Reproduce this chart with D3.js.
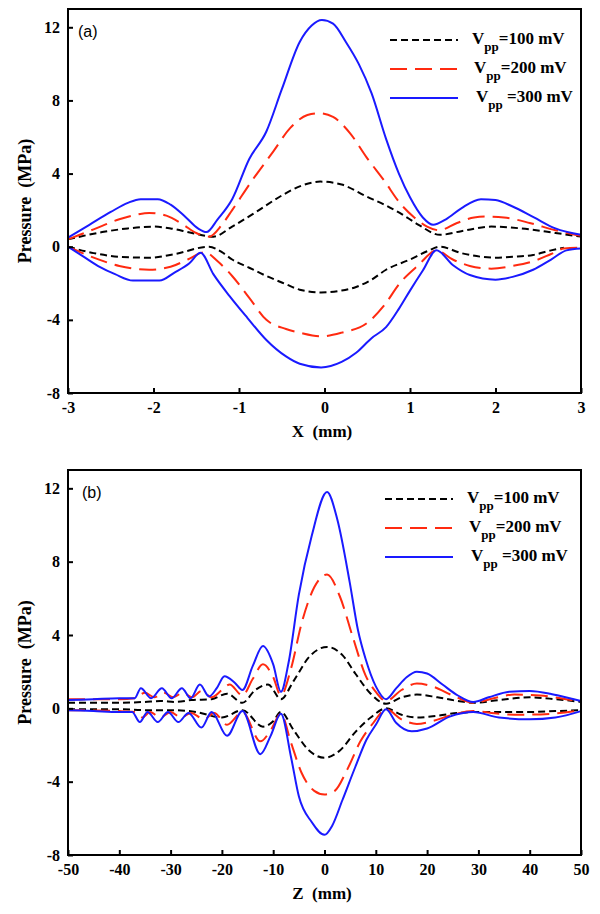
<!DOCTYPE html>
<meta charset="utf-8">
<html>
<head>
  <script src="https://d3js.org/d3.v7.min.js"></script>
  <style>
    body { margin: 0; background: #fff; }
    text { font-family: "Liberation Serif", "Times New Roman", serif; font-weight: bold; }
  </style>
</head>
<body>
<div id="chart"></div>
<script>
  // ---- data ----
  // panel (a): X (mm) vs pressure (MPa)
  var a100pos = [[-3,0.4],[-2.6,0.8],[-2.3,1.0],[-2.0,1.1],[-1.8,1.0],[-1.55,0.75],[-1.3,0.55],[-1.08,1.1],[-0.8,1.9],[-0.5,2.8],[-0.29,3.3],[-0.05,3.56],[0.2,3.4],[0.49,2.75],[0.7,2.3],[0.88,1.85],[1.1,1.2],[1.35,0.65],[1.6,0.85],[1.95,1.1],[2.3,1.0],[2.7,0.75],[3,0.55]];
  var a100neg = [[-3,0],[-2.7,-0.35],[-2.4,-0.55],[-2.05,-0.6],[-1.75,-0.4],[-1.35,0],[-1.2,-0.3],[-1.08,-0.7],[-0.88,-1.15],[-0.68,-1.6],[-0.45,-2.05],[-0.29,-2.35],[-0.04,-2.5],[0.2,-2.4],[0.37,-2.2],[0.55,-1.8],[0.72,-1.26],[1.0,-0.7],[1.2,-0.25],[1.35,0],[1.6,-0.35],[2.0,-0.6],[2.2,-0.55],[2.44,-0.45],[2.65,-0.2],[2.8,-0.05]];
  var a200pos = [[-3,0.4],[-2.7,0.95],[-2.4,1.5],[-2.2,1.75],[-2.05,1.85],[-1.85,1.7],[-1.65,1.2],[-1.5,0.75],[-1.35,0.55],[-1.2,1.2],[-1.08,2.0],[-0.85,3.6],[-0.6,5.2],[-0.4,6.5],[-0.2,7.2],[-0.06,7.3],[0.1,7.1],[0.3,6.2],[0.49,4.9],[0.7,3.6],[0.88,2.4],[1.05,1.6],[1.2,1.1],[1.34,0.9],[1.55,1.3],[1.75,1.6],[1.9,1.65],[2.1,1.6],[2.4,1.3],[2.7,0.9],[3,0.6]];
  var a200neg = [[-3,0],[-2.7,-0.6],[-2.4,-1.05],[-2.05,-1.26],[-1.8,-1.1],[-1.6,-0.7],[-1.4,-0.3],[-1.25,-0.8],[-1.08,-1.6],[-0.88,-2.8],[-0.68,-4.0],[-0.45,-4.5],[-0.29,-4.7],[-0.04,-4.9],[0.2,-4.7],[0.49,-4.2],[0.7,-3.2],[0.88,-2.0],[1.1,-1.0],[1.31,-0.2],[1.5,-0.7],[1.7,-1.05],[1.95,-1.2],[2.2,-1.05],[2.44,-0.8],[2.65,-0.4],[2.8,-0.1],[3,-0.05]];
  var a300pos = [[-3,0.5],[-2.75,1.2],[-2.5,1.9],[-2.3,2.4],[-2.15,2.6],[-1.95,2.6],[-1.8,2.3],[-1.62,1.6],[-1.48,1.0],[-1.38,0.8],[-1.25,1.5],[-1.08,2.6],[-0.88,4.8],[-0.68,6.3],[-0.5,8.6],[-0.29,11.2],[-0.15,12.1],[-0.03,12.4],[0.1,12.2],[0.25,11.2],[0.4,10.0],[0.55,8.4],[0.72,5.9],[0.87,4.0],[1.0,2.7],[1.15,1.6],[1.27,1.2],[1.42,1.5],[1.6,2.1],[1.83,2.6],[2.0,2.55],[2.2,2.2],[2.45,1.6],[2.7,1.0],[3,0.65]];
  var a300neg = [[-3,0],[-2.8,-0.6],[-2.63,-1.1],[-2.45,-1.5],[-2.24,-1.85],[-1.93,-1.85],[-1.75,-1.4],[-1.58,-0.9],[-1.45,-0.33],[-1.3,-1.5],[-1.11,-2.7],[-0.9,-3.9],[-0.68,-5.1],[-0.45,-6.0],[-0.29,-6.4],[-0.04,-6.6],[0.2,-6.3],[0.37,-5.8],[0.55,-5.0],[0.72,-4.4],[0.87,-3.4],[1.0,-2.4],[1.15,-1.3],[1.31,-0.2],[1.5,-1.0],[1.7,-1.55],[2.0,-1.8],[2.2,-1.65],[2.44,-1.26],[2.65,-0.7],[2.83,-0.2],[3,-0.1]];

  // panel (b): Z (mm) vs pressure (MPa)
  var b100pos = [[-50,0.3],[-40,0.3],[-35,0.35],[-32,0.4],[-29,0.35],[-26,0.45],[-22,0.5],[-19,0.8],[-16,0.3],[-13.5,1.0],[-11,1.3],[-8.5,0.5],[-6,1.5],[-3,2.8],[0.5,3.35],[3.5,2.9],[6,1.9],[9,0.8],[12,0.25],[15,0.6],[18,0.75],[22,0.6],[26,0.4],[29,0.3],[34,0.45],[40,0.6],[45,0.5],[50,0.35]];
  var b100neg = [[-50,-0.05],[-40,-0.05],[-35,-0.1],[-30,-0.1],[-25,-0.2],[-20,-0.5],[-16,-0.1],[-12,-1.0],[-10,-0.7],[-8.5,-0.2],[-6,-1.2],[-3,-2.3],[0,-2.7],[3,-2.3],[6,-1.3],[9,-0.5],[12,0],[15,-0.35],[18,-0.5],[22,-0.4],[26,-0.25],[29,-0.2],[34,-0.2],[40,-0.2],[45,-0.15],[50,-0.1]];
  var b200pos = [[-50,0.5],[-45,0.5],[-40,0.5],[-37,0.55],[-35,0.85],[-33.2,0.6],[-31.3,0.85],[-29.5,0.6],[-27.6,0.85],[-25.8,0.6],[-24,0.95],[-22,0.6],[-20,1.0],[-18.5,1.3],[-16,0.7],[-14,1.6],[-12,2.4],[-10,1.7],[-8.5,0.7],[-6.5,2.2],[-4.5,4.6],[-2,6.6],[0.5,7.3],[3,6.1],[5.5,3.9],[8,1.8],[10,0.9],[12,0.4],[15,1.0],[18,1.35],[21,1.2],[25,0.7],[29,0.3],[33,0.55],[37,0.75],[42,0.7],[46,0.55],[50,0.35]];
  var b200neg = [[-50,-0.1],[-40,-0.15],[-37,-0.2],[-35.5,-0.5],[-34,-0.2],[-32,-0.5],[-30,-0.2],[-28,-0.5],[-26,-0.25],[-23.5,-0.6],[-21.5,-0.25],[-19,-0.9],[-16,-0.2],[-12.5,-1.8],[-10.5,-1.2],[-8.5,-0.3],[-6.5,-1.9],[-4.5,-3.5],[-2,-4.5],[0,-4.7],[2,-4.5],[4.5,-3.3],[7,-1.8],[9.5,-0.8],[12,-0.05],[15,-0.6],[18,-0.85],[21,-0.7],[25,-0.35],[29,-0.15],[34,-0.3],[38,-0.35],[44,-0.3],[50,-0.1]];
  var b300pos = [[-50,0.45],[-45,0.5],[-40,0.55],[-37,0.55],[-35.8,1.1],[-33.8,0.55],[-31.7,1.1],[-29.8,0.55],[-27.8,1.1],[-26.1,0.55],[-24.3,1.3],[-22.5,0.65],[-21,1.1],[-19.5,1.75],[-17.5,1.4],[-16,1.0],[-14,2.3],[-12,3.4],[-10,2.4],[-8.5,0.9],[-7,2.5],[-5,6.2],[-2.5,9.4],[0.5,11.8],[2.5,10.3],[4.9,6.9],[6.5,4.3],[8,2.7],[10,1.2],[12,0.5],[14,1.1],[16,1.7],[18,2.0],[20,1.9],[23,1.3],[26,0.7],[29,0.35],[32,0.6],[36,0.9],[40,0.95],[44,0.8],[47,0.6],[50,0.4]];
  var b300neg = [[-50,-0.1],[-45,-0.15],[-40,-0.2],[-37.5,-0.2],[-36,-0.75],[-34.5,-0.2],[-32.5,-0.75],[-30.5,-0.2],[-28.5,-0.75],[-26.5,-0.25],[-24,-1.05],[-22,-0.2],[-19,-1.5],[-16,-0.15],[-12.5,-2.5],[-10.5,-1.5],[-8.5,-0.3],[-6.5,-2.7],[-5,-4.8],[-2.5,-6.2],[0,-6.9],[1.5,-6.4],[3.5,-5.0],[6,-3.2],[8.2,-1.7],[10,-0.9],[12,-0.05],[14,-0.8],[17,-1.25],[20,-1.1],[24.4,-0.45],[29,-0.2],[34,-0.5],[40,-0.6],[45,-0.5],[50,-0.15]];

  var legendLabels = ["=100 mV", "=200 mV", " =300 mV"];
  var xTicksA = [-3, -2, -1, 0, 1, 2, 3];
  var xTicksB = [-50, -40, -30, -20, -10, 0, 10, 20, 30, 40, 50];
  var yTicks = [-8, -4, 0, 4, 8, 12];

  // ---- layout ----
  var width = 600, height = 914;
  var styles = [
    {color: "#000000", dash: "7,4"},
    {color: "#ff2a10", dash: "17,8"},
    {color: "#1a1aff", dash: null}
  ];

  var svg = d3.select("#chart").append("svg")
      .attr("width", width)
      .attr("height", height);

  function drawPanel(opt) {
    var x = d3.scaleLinear().domain(opt.xDomain).range([68, 581]);
    var y = d3.scaleLinear().domain([-8, 13]).range([opt.bottom, opt.top]);
    var g = svg.append("g");

    var line = d3.line()
        .x(function(d) { return x(d[0]); })
        .y(function(d) { return y(d[1]); })
        .curve(d3.curveMonotoneX);

    // curves: negative ones first, then positive
    opt.series.forEach(function(s, i) {
      var st = styles[i];
      [s.neg, s.pos].forEach(function(data) {
        g.append("path")
          .datum(data)
          .attr("d", line)
          .attr("fill", "none")
          .attr("stroke", st.color)
          .attr("stroke-width", 2)
          .attr("stroke-dasharray", st.dash);
      });
    });

    // frame
    g.append("rect")
      .attr("x", 68).attr("y", opt.top)
      .attr("width", 581 - 68).attr("height", opt.bottom - opt.top)
      .attr("fill", "none").attr("stroke", "#000").attr("stroke-width", 2);

    // axes with inward ticks, plain hyphen for minus
    var fmt = function(d) { return String(d); };
    var xAxis = d3.axisBottom(x).tickValues(opt.xTicks).tickSize(-5).tickPadding(9).tickFormat(fmt);
    var gx = g.append("g").attr("transform", "translate(0," + opt.bottom + ")").call(xAxis);
    var yAxis = d3.axisLeft(y).tickValues(yTicks).tickSize(-5).tickPadding(8).tickFormat(fmt);
    var gy = g.append("g").attr("transform", "translate(68,0)").call(yAxis);
    [gx, gy].forEach(function(a) {
      a.attr("font-family", "'Liberation Serif', serif").attr("font-size", 16);
      a.select(".domain").remove();
      a.selectAll(".tick line").attr("stroke", "#000").attr("stroke-width", 2);
      a.selectAll(".tick text")
        .style("font-family", "'Liberation Serif', serif")
        .style("font-weight", "bold")
        .style("font-size", "16px")
        .attr("fill", "#000");
    });

    // axis titles
    g.append("text")
      .attr("x", 322).attr("y", opt.bottom + 44)
      .attr("text-anchor", "middle")
      .attr("xml:space", "preserve")
      .style("font-size", "17px")
      .text(opt.xTitle);
    g.append("text")
      .attr("transform", "translate(31," + ((opt.top + opt.bottom) / 2) + ") rotate(-90)")
      .attr("text-anchor", "middle")
      .attr("xml:space", "preserve")
      .style("font-size", "18px")
      .text("Pressure  (MPa)");

    // panel letter
    g.append("text")
      .attr("x", opt.letterX).attr("y", opt.top + 28)
      .style("font-family", "'Liberation Sans', Arial, sans-serif")
      .style("font-weight", "normal")
      .style("font-size", "16px")
      .text(opt.letter);

    // legend
    legendLabels.forEach(function(lab, i) {
      var ly = opt.legendY + i * 29;
      g.append("line")
        .attr("x1", opt.legendX).attr("x2", opt.legendX + 68)
        .attr("y1", ly).attr("y2", ly)
        .attr("stroke", styles[i].color)
        .attr("stroke-width", 2)
        .attr("stroke-dasharray", styles[i].dash);
      var t = g.append("text")
        .attr("x", opt.legendX + 82 + i * 2)
        .attr("y", ly + 4)
        .attr("xml:space", "preserve")
        .style("font-size", "17px");
      t.append("tspan").text("V");
      t.append("tspan").attr("dy", 7).style("font-size", "13px").text("pp");
      t.append("tspan").attr("dy", -7).text(lab);
    });
  }

  drawPanel({
    top: 9, bottom: 393, xDomain: [-3, 3], xTicks: xTicksA,
    xTitle: "X  (mm)", letter: "(a)", letterX: 78,
    legendX: 390, legendY: 40,
    series: [
      {pos: a100pos, neg: a100neg},
      {pos: a200pos, neg: a200neg},
      {pos: a300pos, neg: a300neg}
    ]
  });

  drawPanel({
    top: 470, bottom: 855, xDomain: [-50, 50], xTicks: xTicksB,
    xTitle: "Z  (mm)", letter: "(b)", letterX: 82,
    legendX: 385, legendY: 499,
    series: [
      {pos: b100pos, neg: b100neg},
      {pos: b200pos, neg: b200neg},
      {pos: b300pos, neg: b300neg}
    ]
  });
</script>
</body>
</html>
